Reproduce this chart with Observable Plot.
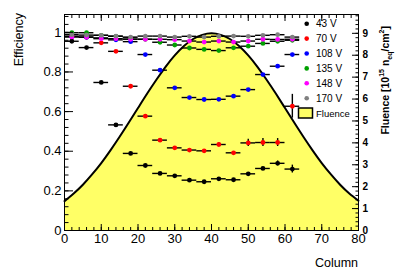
<!DOCTYPE html>
<html><head><meta charset="utf-8">
<script src="https://cdn.jsdelivr.net/npm/d3@7"></script>
<script src="https://cdn.jsdelivr.net/npm/@observablehq/plot@0.6"></script>
<style>
body{margin:0;background:#fff}
svg{font-family:"Liberation Sans",Arial,Helvetica,sans-serif}
</style>
</head><body><div id="chart"></div>
<script>
// ---- data ----
const columns = [2,6,10,14,18,22,26,30,34,38,42,46,50,54,58,62];
const colHalfWidth = 2;
const seriesNames = ["43 V","70 V","108 V","135 V","148 V","170 V"];
const seriesColors = ["#000000","#ff0000","#0000ff","#00a000","#ff00ff","#808080"];
const eff43V  = [0.955,0.923,0.747,0.533,0.389,0.328,0.288,0.276,0.254,0.246,0.261,0.256,0.286,0.313,0.339,0.310];
const err43V  = [0.003,0.003,0.004,0.004,0.004,0.004,0.004,0.004,0.004,0.004,0.004,0.004,0.005,0.006,0.012,0.020];
const eff70V  = [0.980,0.975,0.947,0.904,0.728,0.577,0.456,0.417,0.406,0.402,0.434,0.392,0.442,0.444,0.444,0.627];
const err70V  = [0.002,0.002,0.003,0.004,0.004,0.005,0.005,0.005,0.005,0.005,0.008,0.005,0.018,0.020,0.020,0.060];
const eff108V = [0.978,0.975,0.972,0.962,0.953,0.888,0.809,0.720,0.671,0.661,0.662,0.678,0.711,0.787,0.829,0.888];
const err108V = [0.002,0.002,0.002,0.002,0.003,0.003,0.003,0.003,0.003,0.003,0.003,0.003,0.004,0.005,0.008,0.006];
const eff135V = [0.998,0.998,0.985,0.980,0.972,0.965,0.950,0.936,0.921,0.914,0.908,0.922,0.930,0.944,0.955,0.960];
const eff148V = [0.977,0.976,0.968,0.968,0.965,0.965,0.965,0.963,0.956,0.951,0.956,0.951,0.956,0.965,0.964,0.965];
const eff170V = [0.988,0.986,0.985,0.981,0.976,0.981,0.981,0.976,0.980,0.976,0.980,0.981,0.980,0.985,0.988,0.976];
const effSeries = [eff43V, eff70V, eff108V, eff135V, eff148V, eff170V];
const errSeries = [err43V, err70V, err108V, null, null, null];

// fluence profile (10^15 neq/cm^2) vs column
const fluenceCols = [0,2.5,5,7.5,10,12.5,15,17.5,20,22.5,25,27.5,30,32.5,35,37.5,40,42.5,45,47.5,50,52.5,55,57.5,60,62.5,65,67.5,70,72.5,75,77.5,80];
const fluenceVals = [1.34,1.69,2.09,2.56,3.08,3.66,4.28,4.93,5.59,6.25,6.88,7.47,7.99,8.42,8.74,8.93,9.00,8.93,8.74,8.42,7.99,7.47,6.88,6.25,5.59,4.93,4.28,3.66,3.08,2.56,2.09,1.69,1.36];

// axis ticks
const xMajor = [0,10,20,30,40,50,60,70,80];
const xMinor = d3.range(0, 80.01, 2);
const yMajor = [0,0.2,0.4,0.6,0.8,1];
const yMinor = d3.range(0, 1.081, 0.04);
const fMajor = [0,1,2,3,4,5,6,7,8,9];
const fMinor = d3.range(0, 9.81, 0.2);
const fluencePerEff = 9.045;

// ---- build tables ----
const points = [];
effSeries.forEach((arr, s) => arr.forEach((v, i) => points.push({
  series: seriesNames[s], color: seriesColors[s], col: columns[i], eff: v,
  err: errSeries[s] ? errSeries[s][i] : 0.002
})));
const fluence = fluenceCols.map((c, i) => ({col: c, f: fluenceVals[i]}));
const toEff = f => f / fluencePerEff;

const plot = Plot.plot({
  width: 403, height: 275,
  marginLeft: 64, marginRight: 45, marginTop: 14, marginBottom: 45,
  x: {domain: [0, 80], axis: null},
  y: {domain: [0, 1.09], axis: null},
  style: {background: "white", fontFamily: "'Liberation Sans', Arial, sans-serif", fontSize: "13px", color: "black"},
  marks: [
    Plot.areaY(fluence, {x: "col", y: d => toEff(d.f), fill: "#ffff66", curve: "natural"}),
    Plot.line(fluence, {x: "col", y: d => toEff(d.f), stroke: "black", strokeWidth: 2, curve: "natural"}),
    Plot.ruleY(points, {y: "eff", x1: d => d.col - colHalfWidth, x2: d => d.col + colHalfWidth, stroke: "black", strokeWidth: 1.4}),
    Plot.ruleX(points, {x: "col", y1: d => d.eff - d.err, y2: d => d.eff + d.err, stroke: "black", strokeWidth: 1.4}),
    Plot.dot(points, {x: "col", y: "eff", r: 2.4, fill: "color", stroke: "none"}),
    // left axis
    Plot.axisY({ticks: yMinor, tickSize: -4.5, fill: "none", label: null}),
    Plot.axisY({ticks: yMajor, tickSize: -9, fill: "none", label: null}),
    Plot.axisY({ticks: yMajor, tickSize: 0, tickPadding: 3, label: null, fontSize: 13,
      tickFormat: d => String(+d.toFixed(1))}),
    // bottom axis
    Plot.axisX({ticks: xMinor, tickSize: -3, fill: "none", label: null}),
    Plot.axisX({ticks: xMajor, tickSize: -6, fill: "none", label: null}),
    Plot.axisX({ticks: xMajor, tickSize: 0, tickPadding: 3, label: null, fontSize: 13}),
    // top ticks
    Plot.axisX({anchor: "top", ticks: xMinor, tickSize: -3, fill: "none", label: null}),
    Plot.axisX({anchor: "top", ticks: xMajor, tickSize: -6, fill: "none", label: null}),
    // right fluence axis
    Plot.axisY({anchor: "right", ticks: fMinor.map(toEff), tickSize: -3.5, fill: "none", label: null}),
    Plot.axisY({anchor: "right", ticks: fMajor.map(toEff), tickSize: -7, fill: "none", label: null}),
    Plot.axisY({anchor: "right", ticks: fMajor.map(toEff), tickSize: 0, tickPadding: 4, label: null,
      tickFormat: d => String(Math.round(d * fluencePerEff)), fontSize: 10, fontWeight: "bold"}),
    Plot.frame({stroke: "black", strokeWidth: 1})
  ]
});
document.getElementById("chart").appendChild(plot);

// ---- titles & legend ----
const svg = d3.select(plot);
svg.append("text").attr("transform", "translate(23,13) rotate(-90)")
  .attr("text-anchor", "end").attr("font-size", 12.5).text("Efficiency");
svg.append("text").attr("x", 358).attr("y", 267).attr("text-anchor", "end")
  .attr("font-size", 12.5).text("Column");
const rt = svg.append("text").attr("transform", "translate(389,26) rotate(-90)")
  .attr("text-anchor", "end").attr("font-size", 10.5).attr("font-weight", "bold");
rt.append("tspan").text("Fluence [10");
rt.append("tspan").attr("font-size", 7).attr("dy", -5).text("15");
rt.append("tspan").attr("dy", 5).text(" n");
rt.append("tspan").attr("font-size", 7).attr("dy", 3).text("eq");
rt.append("tspan").attr("dy", -3).text("/cm");
rt.append("tspan").attr("font-size", 7).attr("dy", -5).text("2");
rt.append("tspan").attr("dy", 5).text("]");

const legY0 = 23.7, legDy = 14.9;
seriesNames.forEach((name, i) => {
  svg.append("circle").attr("cx", 306.7).attr("cy", legY0 + i * legDy).attr("r", 2.3).attr("fill", seriesColors[i]);
  svg.append("text").attr("x", 316).attr("y", legY0 + i * legDy + 3.6).attr("text-anchor", "start")
    .attr("font-size", 10).text(name);
});
svg.append("rect").attr("x", 298.5).attr("y", 108).attr("width", 14).attr("height", 10)
  .attr("fill", "#ffff66").attr("stroke", "black").attr("stroke-width", 1.5);
svg.append("text").attr("x", 316).attr("y", 116.6).attr("text-anchor", "start")
  .attr("font-size", 9.5).text("Fluence");
</script>
</body></html>
